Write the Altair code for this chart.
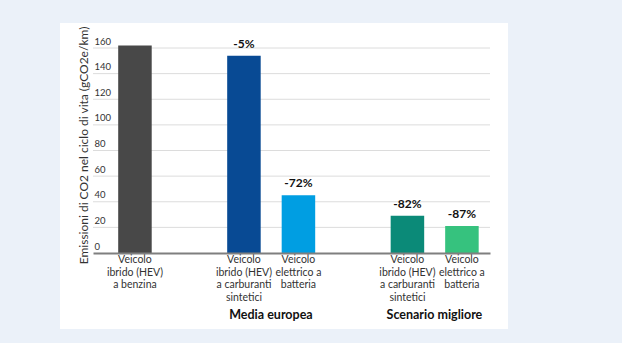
import altair as alt
import pandas as pd

slots = ["hev_benzina", "gap1", "hev_sint_eu", "bev_eu", "gap2", "hev_sint_best", "bev_best"]
bar_slots = ["hev_benzina", "hev_sint_eu", "bev_eu", "hev_sint_best", "bev_best"]
vehicle_labels = [
    "Veicolo\nibrido (HEV)\na benzina",
    "Veicolo\nibrido (HEV)\na carburanti\nsintetici",
    "Veicolo\nelettrico a\nbatteria",
    "Veicolo\nibrido (HEV)\na carburanti\nsintetici",
    "Veicolo\nelettrico a\nbatteria",
]
values = [162, 154, 45, 29, 21]
changes = ["", "-5%", "-72%", "-82%", "-87%"]
colors = ["#484848", "#084a94", "#009ee2", "#0b8a78", "#36c27e"]
group_slots = ["hev_sint_eu", "hev_sint_best"]
group_labels = ["Media europea", "Scenario migliore"]
y_ticks = [0, 20, 40, 60, 80, 100, 120, 140, 160]

FONT = "Lato"

df = pd.DataFrame({
    "slot": bar_slots,
    "label": vehicle_labels,
    "value": values,
    "change": changes,
})
gdf = pd.DataFrame({"slot": group_slots, "group": group_labels})
grid_df = pd.DataFrame({"tick": y_ticks[1:]})
panel_df = pd.DataFrame({"p": [0]})

xscale = alt.Scale(domain=slots, paddingInner=0.385, paddingOuter=0.335, align=0.69)
xaxis = alt.Axis(title=None, labels=False, ticks=False, domain=True,
                 domainColor="#7f7f7f", domainWidth=2, grid=False, zindex=1)
yscale = alt.Scale(domain=[0, 160], nice=False)
yaxis = alt.Axis(title="Emissioni di CO2 nel ciclo di vita (gCO2e/km)",
                 values=y_ticks, grid=False, domain=False, ticks=False, tickSize=0,
                 labelAlign="left", labelPadding=-1, labelBaseline="bottom",
                 labelOffset=-2, labelFont=FONT, labelFontSize=9.5,
                 labelOverlap=False, labelBound=False, labelFlush=False,
                 labelColor="#333333", titleFont=FONT, titleFontSize=12,
                 titleFontWeight="normal", titleColor="#333333",
                 titleAngle=-90, titleX=-10, titleY=97, titleAlign="center",
                 titleBaseline="middle", zindex=1)

panel = alt.Chart(panel_df).mark_rect(color="white").encode(
    x=alt.value(-33), x2=alt.value(415), y=alt.value(-25), y2=alt.value(281)
)

grid = alt.Chart(grid_df).mark_rule(color="#dcdcdc", strokeWidth=1).encode(
    y=alt.Y("tick:Q", scale=yscale, axis=yaxis)
)

bars = alt.Chart(df).mark_bar().encode(
    x=alt.X("slot:N", scale=xscale, axis=xaxis),
    y=alt.Y("value:Q", scale=yscale, axis=yaxis),
    color=alt.Color("slot:N", scale=alt.Scale(domain=bar_slots, range=colors), legend=None),
)

pct = alt.Chart(df).mark_text(font=FONT, fontSize=12, fontWeight="bold", color="#111111",
                              baseline="bottom", dy=-5).encode(
    x=alt.X("slot:N", scale=xscale, axis=xaxis),
    y=alt.Y("value:Q", scale=yscale, axis=yaxis),
    text="change:N",
)

cat = alt.Chart(df).mark_text(font=FONT, fontSize=10.5, color="#333333", baseline="top",
                              align="center", lineBreak="\n", lineHeight=12.6).encode(
    x=alt.X("slot:N", scale=xscale, axis=xaxis),
    y=alt.value(207),
    text="label:N",
)

grp = alt.Chart(gdf).mark_text(font=FONT, fontSize=12.5, fontWeight="bold", color="#111111",
                               baseline="middle", align="center", dx=27).encode(
    x=alt.X("slot:N", scale=xscale, axis=xaxis),
    y=alt.value(267),
    text="group:N",
)

chart = alt.layer(panel, grid, bars, pct, cat, grp).properties(
    width=397, height=205,
    autosize=alt.AutoSizeParams(type="none"),
    padding={"left": 93, "top": 48, "right": 132, "bottom": 90},
    background="#ebf1f9",
).configure_view(stroke=None)

chart.save("out.html", embed_options={"renderer": "svg", "actions": False})
